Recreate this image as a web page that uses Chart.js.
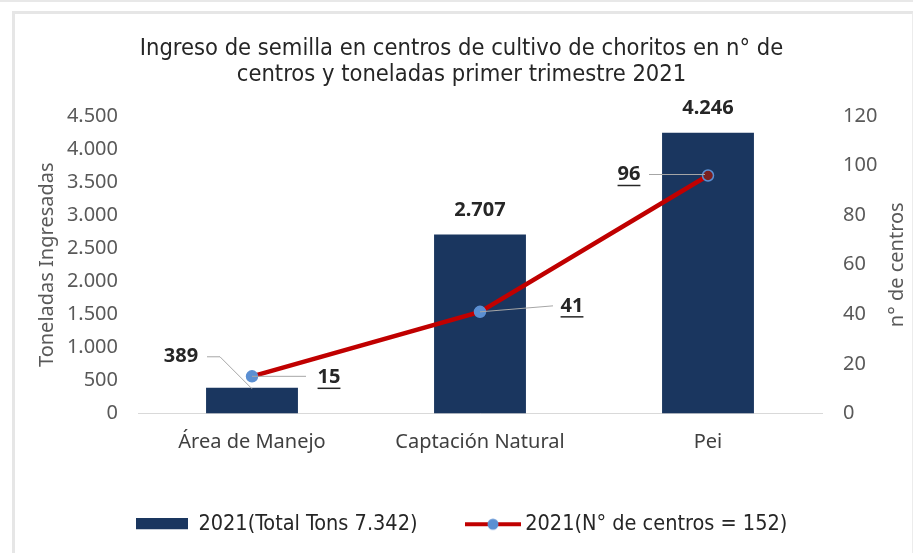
<!DOCTYPE html>
<html>
<head>
<meta charset="utf-8">
<script src="https://cdn.jsdelivr.net/npm/chart.js@4/dist/chart.umd.min.js"></script>
<style>
  html, body { margin: 0; padding: 0; background: #ffffff; }
  #wrap { position: relative; width: 913px; height: 553px; overflow: hidden; }
  #topline { position: absolute; left: 0; top: 0; width: 913px; height: 2px; background: #e8e8e8; }
  #frame { position: absolute; left: 12px; top: 11px; width: 897px; height: 560px;
           border-left: 3px solid #e6e6e6; border-top: 3px solid #e6e6e6; border-right: 2px solid #ececec; }
  canvas { position: absolute; left: 0; top: 0; }
</style>
</head>
<body>
<div id="wrap">
  <div id="topline"></div>
  <div id="frame"></div>
  <canvas id="c" width="913" height="553"></canvas>
</div>
<script>
// ---- data ----
const categories = ['Área de Manejo', 'Captación Natural', 'Pei'];
const toneladas = [389, 2707, 4246];
const centros = [15, 41, 96];
const legendLabels = ['2021(Total Tons 7.342)', '2021(N° de centros = 152)'];
const titleLines = ['Ingreso de semilla en centros de cultivo de choritos en n° de',
                    'centros y toneladas primer trimestre 2021'];
const leftAxisTitle = 'Toneladas Ingresadas';
const rightAxisTitle = 'n° de centros';

// ---- style ----
const BAR = '#1a365f';
const RED = '#c00000';
const BLUE = '#5b8fd2';
const SANS = '"Noto Sans", "DejaVu Sans", sans-serif';
const COND = '"DejaVu Sans Condensed", "Liberation Sans Narrow", "DejaVu Sans", sans-serif';

const fmt = v => String(v).replace(/\B(?=(\d{3})+(?!\d))/g, '.');

// legend swatch images
function barSwatch() {
  const c = document.createElement('canvas'); c.width = 52; c.height = 12;
  const g = c.getContext('2d'); g.fillStyle = BAR; g.fillRect(0, 0, 52, 11); return c;
}
function lineSwatch() {
  const c = document.createElement('canvas'); c.width = 65; c.height = 14;
  const g = c.getContext('2d');
  g.strokeStyle = RED; g.lineWidth = 4; g.beginPath(); g.moveTo(9, 7); g.lineTo(65, 7); g.stroke();
  g.fillStyle = BLUE; g.beginPath(); g.arc(37, 7, 5.5, 0, Math.PI * 2); g.fill();
  return c;
}
const swBar = barSwatch(), swLine = lineSwatch();

const labelPlugin = {
  id: 'valueLabels',
  afterDatasetsDraw(chart) {
    const ctx = chart.ctx;
    const bars = chart.getDatasetMeta(0).data;
    const pts = chart.getDatasetMeta(1).data;
    ctx.save();
    ctx.font = 'bold 20px ' + SANS;
    ctx.fillStyle = '#262626';
    ctx.textAlign = 'center';
    ctx.textBaseline = 'middle';
    ctx.strokeStyle = '#a6a6a6';
    ctx.lineWidth = 1;

    // bar labels
    const b0 = bars[0];
    ctx.beginPath();
    ctx.moveTo(b0.x - 45, b0.y - 31); ctx.lineTo(b0.x - 32, b0.y - 31); ctx.lineTo(b0.x, b0.y + 1);
    ctx.stroke();
    ctx.fillText(fmt(toneladas[0]), b0.x - 71, b0.y - 31);
    for (let i = 1; i < bars.length; i++) {
      ctx.fillText(fmt(toneladas[i]), bars[i].x, bars[i].y - 24);
    }

    // line labels (underlined) with leader lines
    const offs = [
      { lx: 77, ly: 1, from: [0, 0], to: [54, 0] },
      { lx: 92, ly: -6, from: [0, 0], to: [73, -6] },
      { lx: -79, ly: -1, from: [-3, -1], to: [-59, -1] }
    ];
    pts.forEach((p, i) => {
      const o = offs[i];
      ctx.beginPath();
      ctx.moveTo(p.x + o.from[0], p.y + o.from[1]);
      ctx.lineTo(p.x + o.to[0], p.y + o.to[1]);
      ctx.stroke();
      const t = String(centros[i]);
      const x = p.x + o.lx, y = p.y + o.ly;
      ctx.fillText(t, x, y);
      const w = ctx.measureText(t).width;
      ctx.save();
      ctx.strokeStyle = '#262626'; ctx.lineWidth = 1.5;
      ctx.beginPath(); ctx.moveTo(x - w / 2, y + 11); ctx.lineTo(x + w / 2, y + 11); ctx.stroke();
      ctx.restore();
    });

    // right axis title, reading bottom-to-top like the left one
    const y1 = chart.scales.y1;
    ctx.save();
    ctx.font = '20px ' + SANS;
    ctx.fillStyle = '#595959';
    ctx.translate(897, (y1.top + y1.bottom) / 2);
    ctx.rotate(-Math.PI / 2);
    ctx.fillText(rightAxisTitle, 0, 0);
    ctx.restore();

    ctx.restore();
  }
};

new Chart(document.getElementById('c'), {
  data: {
    labels: categories,
    datasets: [
      {
        type: 'bar', label: legendLabels[0], data: toneladas, yAxisID: 'y',
        backgroundColor: BAR, borderWidth: 0, order: 2,
        categoryPercentage: 1, barPercentage: 0.403
      },
      {
        type: 'line', label: legendLabels[1], data: centros, yAxisID: 'y1',
        borderColor: RED, borderWidth: 4.5, tension: 0, order: 1,
        pointRadius: 5.5, pointBorderWidth: 1.5,
        pointBackgroundColor: [BLUE, BLUE, '#7a1f1f'],
        pointBorderColor: BLUE
      }
    ]
  },
  options: {
    responsive: false,
    animation: false,
    events: [],
    layout: { padding: { left: 12, right: 2, top: 0, bottom: 8 } },
    plugins: {
      tooltip: { enabled: false },
      title: {
        display: true, text: titleLines, color: '#262626',
        font: { family: COND, size: 23.5, weight: 'normal', lineHeight: '26px' },
        padding: { top: 36, bottom: 28 }
      },
      legend: {
        position: 'bottom',
        labels: {
          usePointStyle: true, pointStyleWidth: 52, padding: 45,
          color: '#262626', font: { family: COND, size: 21.5 },
          generateLabels: () => [
            { text: legendLabels[0], pointStyle: swBar, datasetIndex: 0, hidden: false, lineWidth: 0, fontColor: '#262626' },
            { text: legendLabels[1], pointStyle: swLine, datasetIndex: 1, hidden: false, lineWidth: 0, fontColor: '#262626' }
          ]
        }
      }
    },
    scales: {
      x: {
        offset: true,
        grid: { display: false, drawTicks: false },
        border: { display: true, color: '#d9d9d9', width: 1 },
        ticks: { color: '#404040', font: { family: SANS, size: 20 }, padding: 17 },
        afterFit: s => { s.height = 55; }
      },
      y: {
        position: 'left', min: 0, max: 4500,
        grid: { display: false, drawTicks: false },
        border: { display: false },
        ticks: { stepSize: 500, color: '#595959', font: { family: SANS, size: 20 }, padding: 20, callback: v => fmt(v) },
        title: { display: true, text: leftAxisTitle, color: '#595959', font: { family: SANS, size: 20 }, padding: { top: 23, bottom: 4 } },
        afterFit: s => { s.width = 126; }
      },
      y1: {
        position: 'right', min: 0, max: 120,
        grid: { display: false, drawTicks: false },
        border: { display: false },
        ticks: { stepSize: 20, color: '#595959', font: { family: SANS, size: 20 }, padding: 21 },
        afterFit: s => { s.width = 89; }
      }
    }
  },
  plugins: [labelPlugin]
});
</script>
</body>
</html>
